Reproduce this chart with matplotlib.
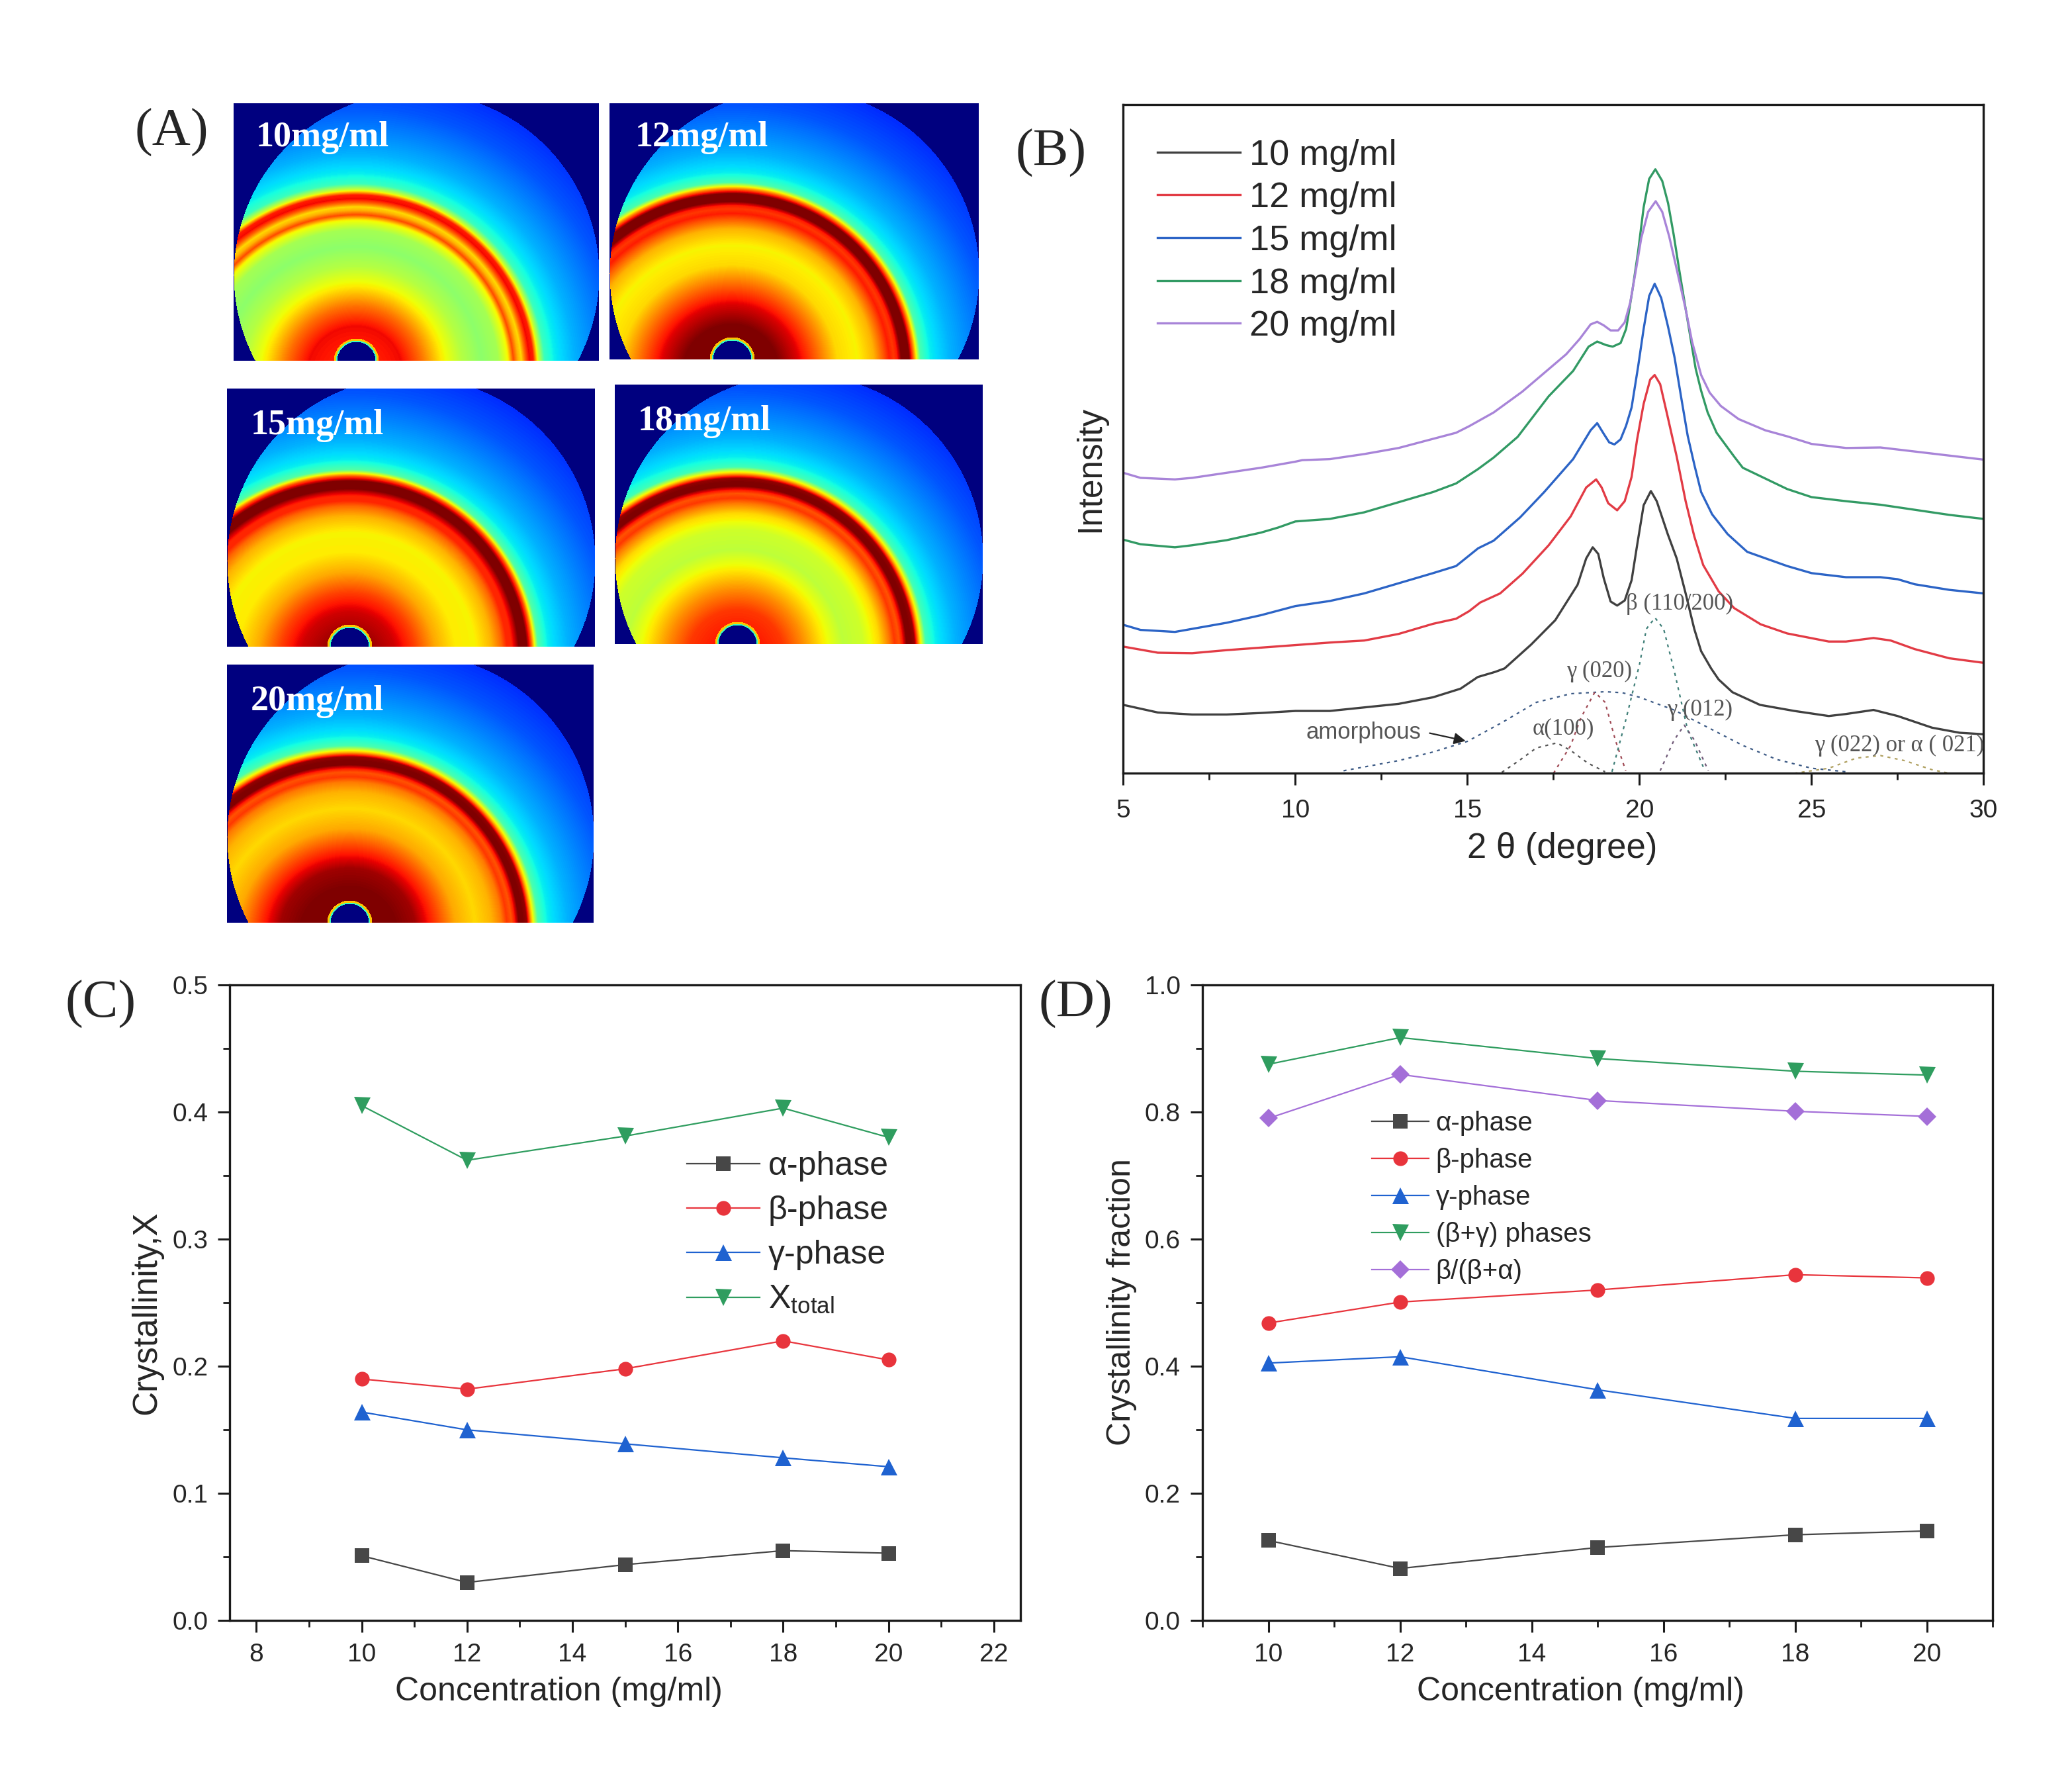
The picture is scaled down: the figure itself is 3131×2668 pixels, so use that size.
import numpy as np
import matplotlib
matplotlib.use("Agg")
import matplotlib.pyplot as plt
from matplotlib.ticker import MultipleLocator

W, H = 3131, 2668
S = 0.9985
plt.rcParams['font.family'] = ['Liberation Sans', 'DejaVu Sans']
plt.rcParams['mathtext.default'] = 'regular'
SERIF = ['Liberation Serif', 'DejaVu Serif']
INK = '#262626'

# ---------- Panel A: radial intensity profiles of the 2D patterns
ring_r = [0, 40, 70, 100, 130, 160, 190, 215, 230, 238, 245, 250, 256, 262, 268, 275, 285, 300, 330, 360, 400, 450]
outer = [.36, .30, .26, .21, .17]
prof_10 = [.88, .88, .90, .79, .66, .57, .52, .55, .65, .83, .72, .68, .80, .90, .88, .62, .42] + outer
prof_12 = [1.0, 1.0, 1.0, .92, .80, .68, .65, .72, .82, .88, .85, .88, 1.0, 1.0, 1.0, .78, .44] + outer
prof_15 = [.97, .97, .93, .84, .73, .66, .65, .72, .80, .87, .87, .92, 1.0, 1.0, 1.0, .82, .45] + outer
prof_18 = [.88, .88, .85, .76, .66, .58, .60, .68, .78, .85, .82, .88, 1.0, 1.0, .98, .72, .43] + outer
prof_20 = [1.0, 1.0, 1.0, .97, .85, .73, .68, .72, .78, .85, .82, .88, 1.0, 1.0, .98, .72, .44] + outer
pattern_labels = ['10mg/ml', '12mg/ml', '15mg/ml', '18mg/ml', '20mg/ml']

# ---------- Panel B: XRD curves (2 theta, intensity in a.u.)
t10 = [5,6,7,8,9,10,11,12,13,14,14.8,15.3,15.8,16.08,16.85,17.55,18.2,18.45,18.64,18.8,18.96,19.16,19.35,19.57,19.77,19.93,20.12,20.33,20.5,20.82,21.08,21.34,21.59,21.79,22.08,22.3,22.7,23.5,24.5,25.5,26,26.8,27.5,28.5,29.3,30]
i10 = [135,120,116,116,119,123,123,130,137,150,167,190,200,207,254,302,372,424,446,433,385,339,331,341,381,450,529,557,537,472,424,355,285,241,207,185,160,135,123,113,117,125,113,90,80,77]
t12 = [5,6,7,8,9,10,11,12,13,14,14.67,15.05,15.37,15.95,16.6,17.36,18,18.45,18.74,18.9,19.09,19.35,19.57,19.77,19.93,20.12,20.31,20.44,20.6,20.82,21.08,21.34,21.59,21.85,22.3,22.75,23.52,24.29,25.5,26,26.8,27.3,28,29,30]
i12 = [250,238,237,243,248,253,258,262,275,295,305,320,337,355,394,450,507,564,580,564,533,519,537,585,659,729,777,786,768,703,625,537,468,411,359,326,294,276,260,260,267,262,245,227,218]
t15 = [5,5.5,6.5,7,8,9,10,11,12,13,14,14.67,15.31,15.76,16.53,17.23,18.07,18.58,18.77,18.96,19.12,19.27,19.45,19.61,19.77,19.96,20.12,20.28,20.44,20.63,20.83,21.02,21.21,21.4,21.6,21.79,22.11,22.56,23.13,24.29,25,26,27,27.5,28,29,30]
i15 = [293,283,279,285,297,312,330,340,355,375,395,409,444,459,505,555,620,677,691,670,653,649,659,686,722,803,877,942,966,938,881,820,742,666,607,555,511,472,437,409,395,387,387,383,373,362,355]
t18 = [5,5.5,6.5,7,8,9,9.5,10,11,12,13,14,14.67,15.3,15.76,16.46,17.36,18.07,18.52,18.77,19.03,19.22,19.45,19.61,19.8,19.96,20.12,20.28,20.46,20.66,20.83,20.99,21.15,21.31,21.47,21.63,21.79,21.98,22.24,22.75,23,24.29,25,26,27,28,29,30]
i18 = [461,452,446,450,460,475,485,497,502,515,535,555,572,600,623,664,744,794,842,852,845,842,849,877,956,1030,1117,1173,1192,1169,1125,1064,995,929,864,799,755,712,672,625,603,561,545,537,530,520,510,502]
t20 = [5,5.5,6.5,7,8,9,10,10.2,11,12,13,14,14.67,15.05,15.76,16.59,17.42,17.87,18.26,18.58,18.77,18.96,19.16,19.38,19.57,19.73,19.9,20.05,20.25,20.47,20.66,20.86,21.08,21.34,21.53,21.79,22.04,22.36,22.88,23.65,24.29,25,26,27,28,29,30]
i20 = [593,583,580,583,593,603,615,618,620,630,642,660,672,685,712,753,801,827,857,886,891,884,874,874,890,929,995,1056,1108,1129,1108,1060,995,916,851,786,751,725,699,677,665,650,642,643,635,627,619]
curve_labels = ['10 mg/ml', '12 mg/ml', '15 mg/ml', '18 mg/ml', '20 mg/ml']
curve_colors = ['#404040', '#e23b45', '#2c64c6', '#329a64', '#a884d8']

# fitted peaks (dotted)
amor_t = [11.4,13,14,15,16,17,18,19,19.5,20,21,22,23,24,25,26]
amor_i = [5,25,42,63,100,140,157,161,159,150,125,90,55,27,10,3]
a100_t = [16,16.5,17,17.6,18,18.5,19]
a100_i = [2,25,50,60,45,20,3]
g020_t = [17.5,18,18.3,18.7,19,19.3,19.6]
g020_i = [0,55,110,160,140,65,5]
b110_t = [19.2,19.6,20,20.2,20.45,20.7,21,21.4,21.9]
b110_i = [3,105,215,285,307,285,205,85,5]
g012_t = [20.6,21,21.3,21.6,22]
g012_i = [5,65,95,65,5]
g022_t = [24.5,25.5,26.3,27,27.7,28.5,29]
g022_i = [0,10,30,35,25,7,0]

# ---------- Panels C and D
conc = [10, 12, 15, 18, 20]
c_alpha = [.051, .030, .044, .055, .053]
c_beta = [.190, .182, .198, .220, .205]
c_gamma = [.164, .150, .139, .128, .121]
c_total = [.405, .362, .381, .403, .380]
d_alpha = [.126, .082, .115, .135, .141]
d_beta = [.468, .501, .520, .544, .539]
d_gamma = [.405, .415, .363, .318, .318]
d_bg = [.875, .917, .884, .864, .858]
d_ratio = [.790, .859, .818, .801, .793]

fig = plt.figure(figsize=(W / 100, H / 100), dpi=100, facecolor='white')

def axpx(x0, y0, x1, y1):
    x0, y0, x1, y1 = x0 * S, y0 * S, x1 * S, y1 * S
    return fig.add_axes([x0 / W, 1 - y1 / H, (x1 - x0) / W, (y1 - y0) / H])

def tpx(x, y, s, **kw):
    kw.setdefault('color', INK)
    kw.setdefault('ha', 'center')
    kw.setdefault('va', 'center')
    return fig.text(x * S / W, 1 - y * S / H, s, **kw)

def anchor(x, y):
    return (x * S / W, 1 - y * S / H)

# ---------- A
rects = [(354,156,906,546), (922,156,1480,544), (344,588,900,978), (930,582,1486,974), (344,1006,898,1396)]
profs = [prof_10, prof_12, prof_15, prof_18, prof_20]
lab_xy = [(488,208), (1062,208), (480,644), (1066,638), (480,1062)]
for rect, prof, lab, lxy in zip(rects, profs, pattern_labels, lab_xy):
    ax = axpx(*rect)
    w, h = rect[2] - rect[0], rect[3] - rect[1]
    yy, xx = np.mgrid[0:h, 0:w]
    dx = xx - 185.0
    dx = np.where(dx < 0, dx * 0.945, dx)
    r = np.hypot(dx, yy - (h + 17))
    img = np.interp(r, ring_r, prof)
    stop = np.hypot(xx - 185, yy - h)
    img[stop < 34] = 0.70
    img[stop < 31] = 0.42
    img[stop < 29] = 0
    img[np.hypot(xx - w / 2, yy - (h - 130)) > w / 2] = 0
    ax.imshow(img, cmap='jet', vmin=0, vmax=1, interpolation='bilinear', aspect='auto')
    ax.axis('off')
    tpx(lxy[0], lxy[1], lab, color='white', family=SERIF, weight='bold', fontsize=39)

tpx(260, 201, '(A)', family=SERIF, fontsize=58)
tpx(1590, 232, '(B)', family=SERIF, fontsize=58)
tpx(152, 1520, '(C)', family=SERIF, fontsize=58)
tpx(1628, 1520, '(D)', family=SERIF, fontsize=58)

def style(ax, pad=11):
    for s in ax.spines.values():
        s.set_linewidth(2.4)
        s.set_color('#1a1a1a')
    ax.tick_params(which='major', direction='out', length=13, width=2.2, labelsize=28, pad=pad, colors='#1a1a1a', labelcolor=INK)
    ax.tick_params(which='minor', direction='out', length=7, width=2.0, colors='#1a1a1a')

# ---------- B
axb = axpx(1700, 158, 3002, 1170)
for tt, ii, lab, col in zip([t10, t12, t15, t18, t20], [i10, i12, i15, i18, i20], curve_labels, curve_colors):
    axb.plot(tt, ii, color=col, lw=2.4, label=lab, solid_joinstyle='round')
dot = dict(lw=1.6, linestyle=(0, (2, 3)))
axb.plot(amor_t, amor_i, color='#3c5a85', **dot)
axb.plot(a100_t, a100_i, color='#555555', **dot)
axb.plot(g020_t, g020_i, color='#a04a55', **dot)
axb.plot(b110_t, b110_i, color='#3f7f78', **dot)
axb.plot(g012_t, g012_i, color='#705a78', **dot)
axb.plot(g022_t, g022_i, color='#b0a060', **dot)
axb.set_xlim(5, 30)
axb.set_ylim(0, 1320)
axb.set_yticks([])
axb.xaxis.set_major_locator(MultipleLocator(5))
axb.xaxis.set_minor_locator(MultipleLocator(2.5))
style(axb, pad=15)
axb.legend(loc='upper left', bbox_to_anchor=anchor(1752, 210), bbox_transform=fig.transFigure, frameon=False,
           fontsize=39, handlelength=2.3, handletextpad=0.26, labelspacing=0.27, borderpad=0, borderaxespad=0, labelcolor=INK)
tpx(2364, 1284, '2 \u03b8 (degree)', fontsize=38)
tpx(1650, 710, 'Intensity', fontsize=37, rotation=90)
GR = '#555555'
tpx(2542, 914, '\u03b2 (110/200)', family=SERIF, fontsize=25, color=GR)
tpx(2420, 1016, '\u03b3 (020)', family=SERIF, fontsize=25, color=GR)
tpx(2572, 1074, '\u03b3 (012)', family=SERIF, fontsize=25, color=GR)
tpx(2366, 1102, '\u03b1(100)', family=SERIF, fontsize=25, color=GR)
tpx(2874, 1128, '\u03b3 (022) or \u03b1 ( 021)', family=SERIF, fontsize=25, color=GR)
tpx(2064, 1108, 'amorphous', fontsize=25, color=GR)
axb.annotate('', xy=(15, 63), xytext=(13.85, 80),
             arrowprops=dict(arrowstyle='-|>', color='#222222', lw=1.6, mutation_scale=26))

# ---------- C / D
mark = {'a': dict(marker='s', color='#474747'), 'b': dict(marker='o', color='#e8343c'),
        'g': dict(marker='^', color='#1f62d0'), 't': dict(marker='v', color='#2f9d5f'),
        'r': dict(marker='D', color='#a46fd8')}
msize = {'a': 16, 'b': 16, 'g': 18, 't': 18, 'r': 14}

def draw(ax, key, ys, lab):
    ax.plot(conc, ys, lw=1.6, markersize=msize[key], markeredgewidth=0, label=lab, **mark[key])

axc = axpx(348, 1490, 1544, 2452)
draw(axc, 'a', c_alpha, '\u03b1-phase')
draw(axc, 'b', c_beta, '\u03b2-phase')
draw(axc, 'g', c_gamma, '\u03b3-phase')
draw(axc, 't', c_total, 'X$_{total}$')
axc.set_xlim(7.5, 22.5)
axc.set_ylim(0, 0.5)
axc.xaxis.set_major_locator(MultipleLocator(2))
axc.xaxis.set_minor_locator(MultipleLocator(1))
axc.yaxis.set_major_locator(MultipleLocator(0.1))
axc.yaxis.set_minor_locator(MultipleLocator(0.05))
style(axc)
axc.legend(loc='upper left', bbox_to_anchor=anchor(1040, 1742), bbox_transform=fig.transFigure, frameon=False,
           fontsize=36, handlelength=2.2, handletextpad=0.25, labelspacing=0.42, borderpad=0, borderaxespad=0, labelcolor=INK)
tpx(846, 2560, 'Concentration (mg/ml)', fontsize=36)
tpx(222, 1986, 'Crystallinity,X', fontsize=37, rotation=90)

axd = axpx(1820, 1490, 3016, 2452)
draw(axd, 'a', d_alpha, '\u03b1-phase')
draw(axd, 'b', d_beta, '\u03b2-phase')
draw(axd, 'g', d_gamma, '\u03b3-phase')
draw(axd, 't', d_bg, '(\u03b2+\u03b3) phases')
draw(axd, 'r', d_ratio, '\u03b2/(\u03b2+\u03b1)')
axd.set_xlim(9, 21)
axd.set_ylim(0, 1.0)
axd.xaxis.set_major_locator(MultipleLocator(2))
axd.xaxis.set_minor_locator(MultipleLocator(1))
axd.yaxis.set_major_locator(MultipleLocator(0.2))
axd.yaxis.set_minor_locator(MultipleLocator(0.1))
style(axd)
axd.legend(loc='upper left', bbox_to_anchor=anchor(2076, 1681), bbox_transform=fig.transFigure, frameon=False,
           fontsize=29, handlelength=2.15, handletextpad=0.25, labelspacing=0.445, borderpad=0, borderaxespad=0, labelcolor=INK)
tpx(2392, 2560, 'Concentration (mg/ml)', fontsize=36)
tpx(1698, 1970, 'Crystallinity fraction', fontsize=36, rotation=90)

fig.savefig('out.png', dpi=100, facecolor='white')
